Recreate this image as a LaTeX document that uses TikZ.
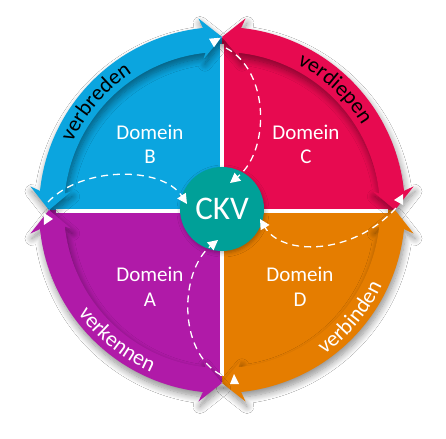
\documentclass[tikz,border=0pt]{standalone}
\usepackage{fontspec}
\setmainfont{Carlito}
\usetikzlibrary{arrows.meta,decorations.text,shadows.blur}
\definecolor{cB}{HTML}{0BA5DF}
\definecolor{cC}{HTML}{E70A50}
\definecolor{cA}{HTML}{B01AA8}
\definecolor{cD}{HTML}{E57D00}
\definecolor{cK}{HTML}{00A098}
\tikzset{
  domtext/.style={text=white, font=\fontsize{21pt}{24.5pt}\selectfont, align=center, inner sep=0pt},
  bandshadow/.style={blur shadow={shadow xshift=1.5pt, shadow yshift=-5pt, shadow blur radius=7pt, shadow opacity=45, shadow blur steps=10}},
  dashline/.style={white, line width=1.3pt, dash pattern=on 7pt off 5pt, -{Triangle[length=10pt,width=10pt]}},
  whitetri/.style={fill=white},
  sepline/.style={white, line width=4pt}
}
\newcommand\bandfont{\fontsize{22pt}{22pt}\selectfont}
\begin{document}
\begin{tikzpicture}[x=1pt,y=1pt]
\useasboundingbox[fill=white] (-222,-228) rectangle (224,210);
% domains
\fill[cB] (0,0) -- (180:172) arc[start angle=180,end angle=90,radius=172] -- cycle;
\fill[cC] (0,0) -- (90:172) arc[start angle=90,end angle=0,radius=172] -- cycle;
\fill[cD] (0,0) -- (0:172) arc[start angle=0,end angle=-90,radius=172] -- cycle;
\fill[cA] (0,0) -- (-90:172) arc[start angle=-90,end angle=-180,radius=172] -- cycle;
% separators
\draw[sepline] (0,-166) -- (0,166);
\draw[sepline] (-166,-1) -- (166,-1);
% bands
\foreach \a/\c in {90/cB,0/cC,-90/cD,180/cA}{
  \fill[\c, bandshadow] ({\a+6}:183) arc[start angle={\a+6}, end angle={\a+84}, radius=183]
    -- ({\a+83}:193) -- ({\a+90}:173) -- ({\a+83}:152) -- ({\a+84}:158)
    arc[start angle={\a+84}, end angle={\a+6}, radius=158]
    -- ({\a+7}:152) -- (\a:173) -- ({\a+7}:193) -- cycle;
}
% band labels
\path[decorate, decoration={text along path, text align=center, text color=black,
  text={|\bandfont|verbreden}}]
  (166:164) arc[start angle=166, end angle=113, radius=164];
\path[decorate, decoration={text along path, text align=center, text color=black,
  text={|\bandfont|verdiepen}}]
  (74:164) arc[start angle=74, end angle=20, radius=164];
\path[decorate, decoration={text along path, text align=center, text color=white,
  text={|\bandfont|verkennen}}]
  (204:177) arc[start angle=204, end angle=258, radius=177];
\path[decorate, decoration={text along path, text align=center, text color=white,
  text={|\bandfont|verbinden}}]
  (-67:177) arc[start angle=-67, end angle=-13, radius=177];
% centre
\node[circle, fill=cK, minimum size=84pt, inner sep=0pt, text=white,
  font=\fontsize{33pt}{33pt}\selectfont,
  blur shadow={shadow xshift=1pt, shadow yshift=-2pt, shadow blur radius=4pt, shadow opacity=30}]
  (ckv) at (0,1) {CKV};
% domain labels
\node[domtext] (tB) at (-72,65.5) {Domein\\B};
\node[domtext] (tC) at (84,65.5) {Domein\\C};
\node[domtext] (tA) at (-72,-77) {Domein\\A};
\node[domtext] (tD) at (78,-77) {Domein\\D};
% junction points and arrow ends
\coordinate (jT) at (4,162);
\coordinate (jL) at (-174,8);
\coordinate (jB) at (-1,-165);
\coordinate (jR) at (174,2);
\coordinate (kT) at (8,27);
\coordinate (kL) at (-35,6);
\coordinate (kB) at (-4,-30);
\coordinate (kR) at (38,-9);
\draw[dashline] (jT) .. controls (48,139) and (48,59) .. (kT);
\draw[dashline] (jL) .. controls (-140,44) and (-60,44) .. (kL);
\draw[dashline] (jB) .. controls (-45,-141) and (-42,-61) .. (kB);
\draw[dashline] (jR) .. controls (130,-46) and (60,-46) .. (kR);
% white triangles at the junctions
\fill[whitetri] (-1.3,172.3) -- (-13,171.3) -- (-8,162.7) -- cycle;
\fill[whitetri] (181,16) -- (172,10) -- (181,5) -- cycle;
\fill[whitetri] (12,-164) -- (8,-174) -- (17,-174) -- cycle;
\fill[whitetri] (-169,-9) -- (-178,-3) -- (-178,-15) -- cycle;
\end{tikzpicture}
\end{document}
